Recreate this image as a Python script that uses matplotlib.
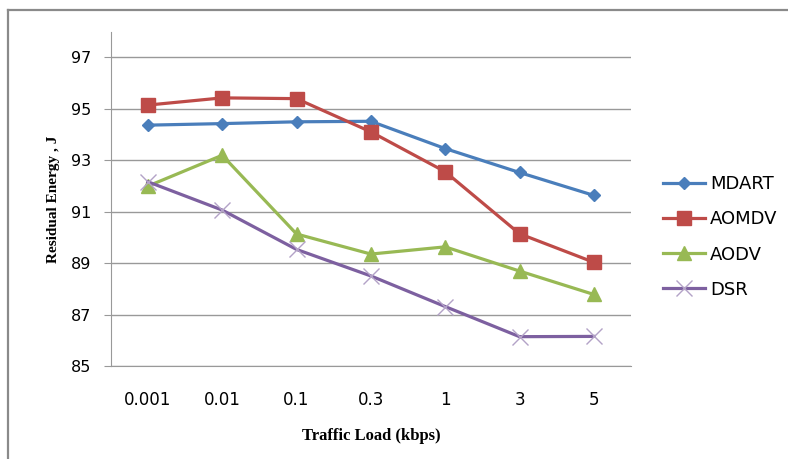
import matplotlib.pyplot as plt
from matplotlib.lines import Line2D

# data
loads = ["0.001", "0.01", "0.1", "0.3", "1", "3", "5"]
mdart = [94.36, 94.42, 94.49, 94.51, 93.45, 92.52, 91.63]
aomdv = [95.14, 95.42, 95.39, 94.10, 92.55, 90.14, 89.03]
aodv = [91.99, 93.19, 90.13, 89.35, 89.63, 88.69, 87.78]
dsr = [92.16, 91.06, 89.53, 88.50, 87.31, 86.14, 86.15]
yticks = [85, 87, 89, 91, 93, 95, 97]

W, H = 788, 459
fig = plt.figure(figsize=(W / 100, H / 100), dpi=100)
ax = fig.add_axes([110.7 / W, 1 - 366 / H, (631 - 110.7) / W, (366 - 32) / H])

x = list(range(len(loads)))
ax.plot(x, mdart, color="#4A7EBB", lw=2.3, marker="D", ms=6.5, label="MDART", zorder=4)
ax.plot(x, aomdv, color="#BE4B48", lw=2.3, marker="s", ms=10, label="AOMDV", zorder=4)
ax.plot(x, aodv, color="#98B954", lw=2.3, marker="^", ms=10, label="AODV", zorder=4)
ax.plot(x, dsr, color="#7D60A0", lw=2.3, marker="x", ms=11, mew=1,
        mec="#B3A2C7", label="DSR", zorder=4)

ax.set_xlim(-0.5, len(loads) - 0.5)
ax.set_ylim(85, 97.98)
ax.set_yticks(yticks)
ax.set_xticks(x)
ax.set_xticklabels(loads)
ax.grid(axis="y", color="#999999", lw=1)
ax.set_axisbelow(True)
for s in ["top", "right"]:
    ax.spines[s].set_visible(False)
ax.spines["left"].set_color("#999999")
ax.spines["bottom"].set_color("#999999")
ax.tick_params(axis="y", length=5, color="#999999", pad=9, labelsize=11.5)
ax.tick_params(axis="x", length=0, pad=18, labelsize=12)

ax.set_xlabel("Traffic Load (kbps)", family="Liberation Serif", fontweight="bold",
              fontsize=12, labelpad=14)
ax.set_ylabel("Residual Energy , J", family="Liberation Serif", fontweight="bold",
              fontsize=11, labelpad=8)

ax.legend(loc="center left", bbox_to_anchor=(663 / W, 1 - 237 / H),
          bbox_transform=fig.transFigure, frameon=False, fontsize=13,
          handlelength=2.3, handletextpad=0.3, labelspacing=0.95,
          borderpad=0, borderaxespad=0)

# outer frame of the chart (left and top edges only are visible)
fig.add_artist(Line2D([8 / W, 8 / W], [0, 1 - 10 / H], transform=fig.transFigure,
                      color="#8A8A8A", lw=1.6))
fig.add_artist(Line2D([8 / W, 1], [1 - 10 / H, 1 - 10 / H], transform=fig.transFigure,
                      color="#8A8A8A", lw=1.6))

fig.savefig("out.png", dpi=100)
